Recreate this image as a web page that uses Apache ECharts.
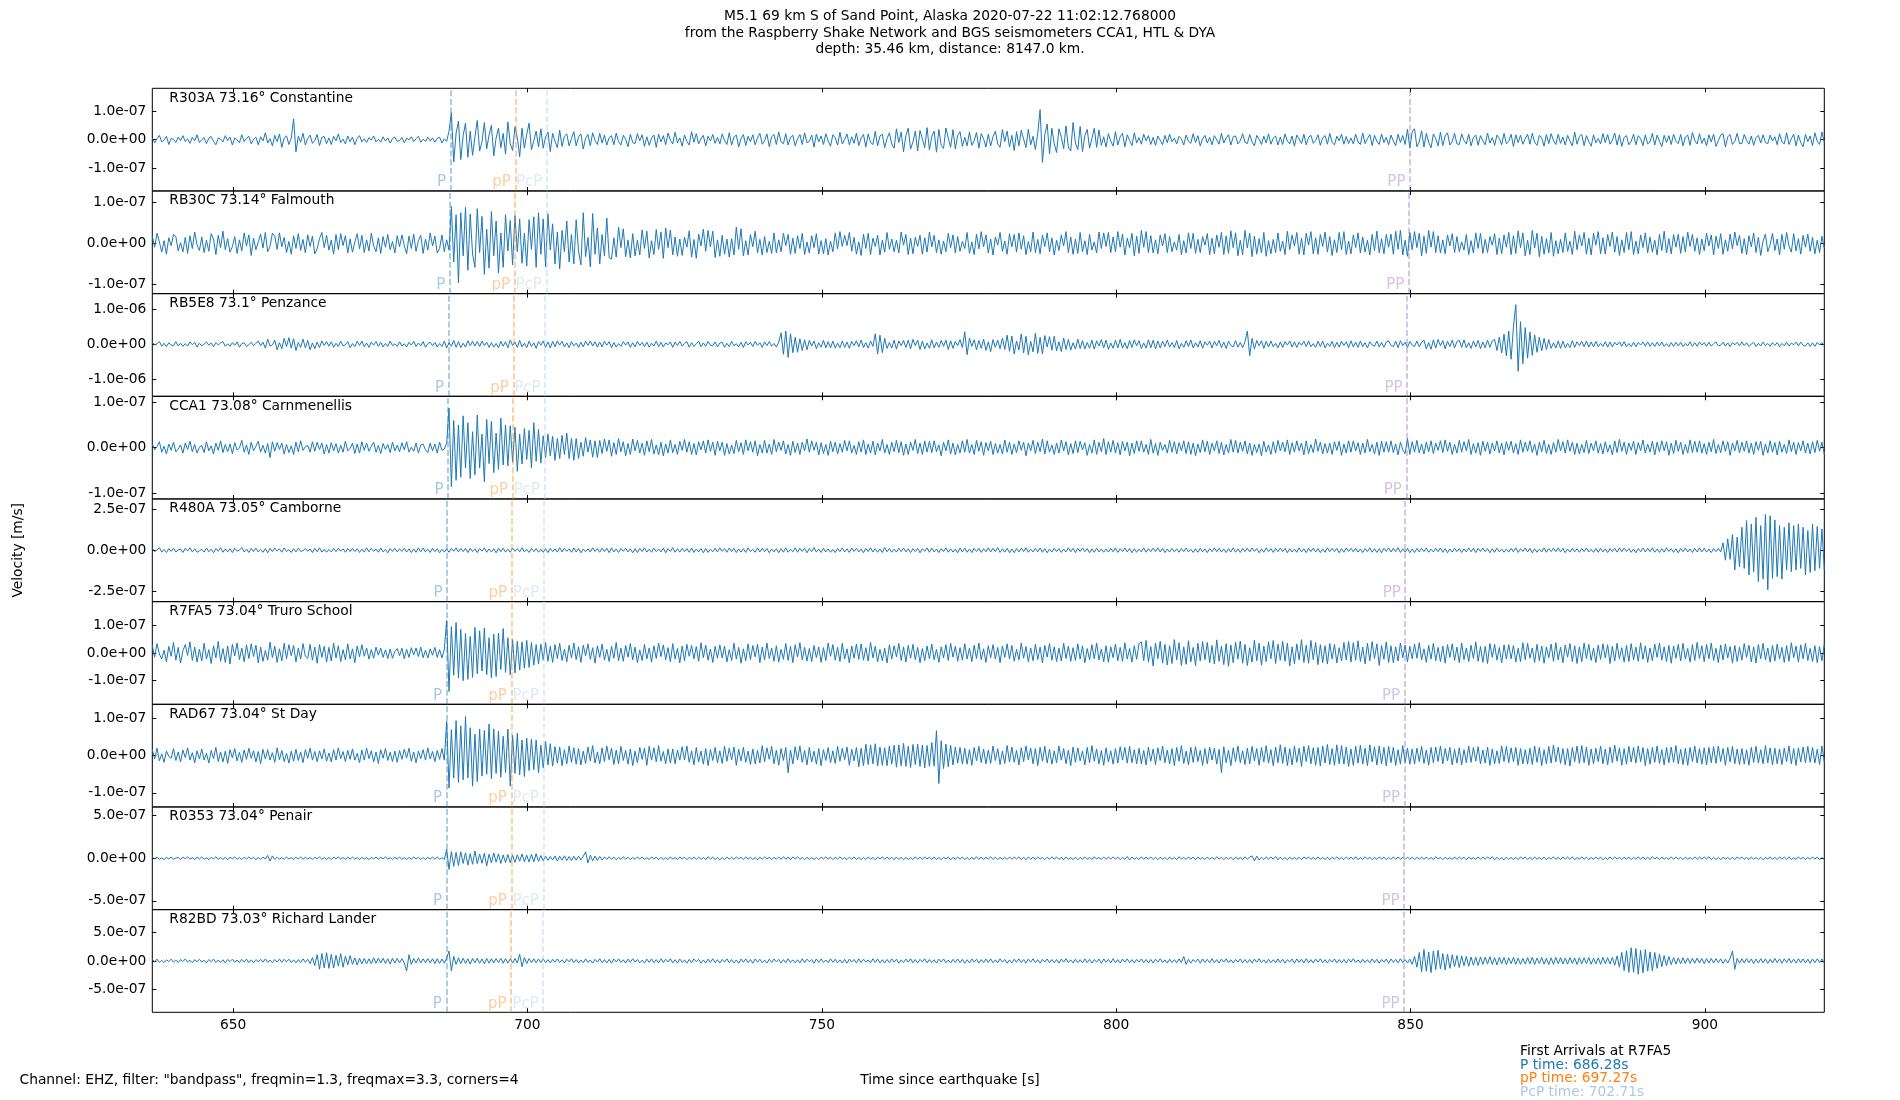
<!DOCTYPE html>
<html>
<head>
<meta charset="utf-8">
<script src="https://cdn.jsdelivr.net/npm/echarts@6/dist/echarts.min.js"></script>
<style>html,body{margin:0;padding:0;background:#fff}#c{width:1900px;height:1100px}</style>
</head>
<body>
<div id="c"></div>
<script>
// ---------- DATA ----------
const stationLabels = ["R303A 73.16° Constantine","RB30C 73.14° Falmouth","RB5E8 73.1° Penzance","CCA1 73.08° Carnmenellis","R480A 73.05° Camborne","R7FA5 73.04° Truro School","RAD67 73.04° St Day","R0353 73.04° Penair","R82BD 73.03° Richard Lander"];
const timeStart = 636.28, timeStep = 0.4, timeEnd = 920.28;
const xTicks = [650,700,750,800,850,900];
const yLimMin = [-1.80e-7,-1.22e-7,-1.497e-6,-1.13e-7,-3.12e-7,-1.85e-7,-1.38e-7,-6.03e-7,-9.05e-7];
const yLimMax = [1.80e-7,1.28e-7,1.457e-6,1.13e-7,3.12e-7,1.85e-7,1.38e-7,6.03e-7,9.05e-7];
const yTickStep = [1e-7,1e-7,1e-6,1e-7,2.5e-7,1e-7,1e-7,5e-7,5e-7];
const pTimes   = [686.94,686.83,686.61,686.50,686.33,686.28,686.28,686.28,686.22];
const pPTimes  = [697.93,697.82,697.60,697.49,697.32,697.27,697.27,697.27,697.21];
const pcpTimes = [703.30,703.20,703.00,702.90,702.76,702.71,702.71,702.71,702.66];
const ppTimes  = [849.9,849.7,849.4,849.3,849.1,849.0,849.0,848.9,848.9];
const arrivalNote = ["First Arrivals at R7FA5","P time: 686.28s","pP time: 697.27s","PcP time: 702.71s"];

// velocity samples in nm/s, one every 0.4 s from 636.28 s (15 samples = 6 s per line)
const r303a = [
6,-11,3,15,-8,-2,12,-17,5,1,-10,9,-4,14,-7,
3,-13,8,-4,17,-10,0,7,-14,5,11,-6,-18,6,2,
-8,14,-3,9,-19,6,-1,-11,17,-7,4,12,-15,1,9,
-18,10,-5,24,-12,3,-22,15,-7,20,-27,6,13,-17,5,
73,-43,12,-9,22,-19,4,16,-13,-3,18,-21,8,11,-14,
6,-17,12,-4,20,-10,2,-15,13,-7,9,-18,5,14,-8,
3,-10,7,-2,13,-8,1,-9,10,-5,6,-12,4,9,-6,
-3,8,-11,5,-1,10,-7,3,12,-9,2,-6,8,-4,6,
-9,5,8,-12,3,-6,30,94,-78,22,65,-70,14,58,-62,
30,-55,10,67,-40,-8,60,-32,16,50,-57,6,40,-28,22,
-50,62,-14,-38,45,7,-60,40,-30,18,58,-35,-4,30,-25,
38,-30,9,27,-42,22,-6,-28,33,-24,12,20,-22,4,28,
-22,10,20,-33,5,18,-21,24,-3,-17,22,-12,16,-19,7,
14,-18,23,-7,-19,15,2,-25,19,-10,-14,21,-4,17,-24,
10,-20,5,16,-27,19,-8,14,-18,23,-2,-15,26,-11,6,
-23,16,-6,-19,28,-9,21,-15,4,15,-22,12,-5,18,-13,
8,-15,20,-3,-17,24,-19,9,16,-26,4,18,-21,12,-7,
17,-18,6,22,-16,-4,20,-25,10,18,-17,27,-8,-14,21,
-19,8,15,-22,3,18,-17,24,-11,-6,16,-26,19,-8,13,
-17,21,-5,-23,17,7,-19,26,-15,1,20,-18,10,-13,23,
-21,6,18,-26,20,-10,-17,29,-22,13,19,-28,4,24,-15,
-30,38,-10,27,-42,14,40,-33,-8,30,-40,32,3,-28,42,
-36,11,30,-44,36,-20,-31,41,6,-27,35,-33,15,28,-24,
8,-22,27,-20,-4,25,-30,21,3,-26,19,-22,10,30,-15,
-27,35,-7,30,-25,15,-38,28,-22,33,2,-28,36,-18,12,
-35,22,105,-80,18,55,-50,40,-14,-45,38,9,-32,48,-26,
-40,60,-12,-35,46,-42,14,36,-30,4,40,-27,34,-20,10,
-26,21,-5,-23,28,-19,10,22,-25,17,-3,-21,24,-12,7,
-16,19,-4,14,-17,8,-20,13,-2,-18,15,-11,19,-7,5,
-15,12,3,-19,16,-6,-13,21,-10,14,-22,3,15,-12,8,
-18,14,-1,-16,22,-12,6,17,-19,10,13,-15,-4,21,-9,
-14,18,-8,-22,15,2,-17,12,-11,20,-16,5,13,-19,9,
-17,20,-5,-15,13,-23,16,3,-14,19,-18,8,15,-13,-3,
17,-20,7,14,-16,22,-10,-18,12,-4,19,-16,11,-14,6,
-15,19,-8,-17,23,-14,3,18,-21,15,-6,-17,20,-10,8,
-18,16,-5,-21,19,-10,14,-17,36,-30,27,38,-25,-8,31,
-26,22,-9,-29,20,4,-22,26,-21,13,24,-19,-6,22,-15,
-17,20,-3,-15,19,-22,8,16,-20,14,-4,-18,23,-12,7,
-20,16,4,-18,22,-15,-6,19,-24,17,-10,15,-16,3,19,
-16,22,-9,-20,15,6,-23,18,-14,21,-3,-17,19,-13,9,
-19,15,-5,-22,26,-16,10,18,-21,14,-7,-23,17,-11,4,
-15,21,-10,18,-16,-2,23,-19,17,-24,8,14,-18,-6,19,
-18,14,4,-21,17,-15,-8,22,-19,16,-5,-24,15,-10,14,
-17,19,-6,-14,18,-22,9,16,-20,25,-3,-15,21,-13,5,
-22,17,-8,19,-24,-4,16,21,-26,10,18,-17,-6,22,-14,
-14,18,-3,-16,13,-20,7,15,-12,17,-10,-14,16,-5,10,
-18,21,-8,-15,24,-17,3,19,-22,16,-11,-25,18,-7,13,
-21,24,-6,-17,27,-10];

const rb30c = [
18,-9,25,4,-21,7,-26,14,-5,22,17,-18,2,-20,15,
-24,19,-12,28,-3,-17,16,-22,8,-19,24,11,-27,20,-10,
30,-15,12,-21,-8,17,-24,9,-18,26,-6,21,-29,13,-15,
4,23,-11,27,-20,-7,25,18,-14,26,-8,15,-22,5,-26,
19,-12,24,-17,10,-23,21,-7,18,-25,-13,12,27,-10,20,
-16,8,-26,22,-15,24,-5,19,-23,11,-21,3,24,-13,20,
-22,9,-18,25,-6,-20,14,-24,17,-9,22,-15,5,-23,19,
-8,21,-5,-25,18,-12,23,-19,7,20,-24,11,-16,26,-6,
18,-23,-12,21,-20,9,-16,90,-45,70,-96,75,-30,88,-65,
72,-25,-58,85,-22,66,-75,35,-60,78,-30,55,-72,26,-58,
70,-18,56,-52,68,-20,60,-48,25,-55,58,-14,65,-58,75,
-26,60,-57,73,-16,48,-50,28,-62,32,-20,55,-45,22,-50,
58,-18,-52,75,-32,15,-57,73,-26,38,-50,22,-30,62,-34,
-38,14,-33,40,-10,36,-32,9,-35,24,-30,8,-28,33,-12,
30,-35,7,-27,34,-14,28,-36,38,-10,33,-28,16,-31,11,
-29,15,-9,31,-33,10,-36,23,-6,35,-19,32,-8,30,-34,
9,-31,20,-26,11,-33,12,-28,40,-14,36,-30,7,-28,22,
-8,30,-23,10,-28,17,-22,5,-24,26,-23,9,-20,25,-5,
22,-26,13,-24,19,-12,25,-27,4,-23,19,-10,24,-26,7,
-25,12,-28,6,-20,26,-13,29,-7,20,-5,27,-19,15,-26,
4,-29,23,-12,25,-27,13,-7,20,-28,8,-21,27,-14,11,
-20,8,-23,28,-4,22,-27,13,-25,15,-7,20,-26,14,-21,
28,-8,20,-22,9,-26,6,-20,25,-10,21,-23,17,-19,5,
-12,27,-24,4,-27,23,-13,29,-8,21,-23,11,-28,16,-4,
27,-19,6,-26,24,-8,22,-21,26,-14,19,-27,5,-20,28,
-22,10,-25,21,-7,26,-20,14,-28,8,-17,21,-6,29,-22,
16,-26,11,-24,27,-20,7,-27,22,-16,4,-23,28,-12,26,
-7,27,-22,16,-20,29,-9,23,-28,13,-10,25,-30,18,-24,
32,-9,29,-22,19,-23,9,-25,21,-6,24,-22,17,-20,4,
-16,22,-27,7,-23,26,-12,25,-24,10,-22,17,-4,24,-27,
13,-25,21,-9,27,-27,19,-24,31,-10,26,-30,8,-27,32,
-11,25,-32,18,-26,12,-23,27,-31,7,-25,10,-22,26,-19,
6,-27,30,-15,21,-6,27,-26,13,-28,25,-4,29,-25,14,
-26,22,-7,28,-21,17,-29,9,-22,27,-15,29,-27,6,-25,
21,-10,26,-23,16,-21,8,-28,22,-17,30,-23,12,-25,22,
-9,23,-26,30,-14,32,-28,8,-31,27,-15,29,-10,25,-30,
18,-24,32,-9,29,-22,19,-23,9,-25,21,-6,24,-22,17,
-20,4,-16,22,-27,7,-23,26,-12,25,-24,10,-22,17,-4,
24,-27,13,-25,21,-9,27,-27,19,-24,31,-10,26,-30,8,
-27,32,-11,25,-32,18,-26,12,-23,27,-31,7,-25,10,-22,
26,-19,6,-27,30,-15,21,-6,27,-26,13,-28,25,-4,29,
-25,14,-26,22,-7,28,-21,17,-29,9,-22,27,-15,29,-27,
6,-25,21,-10,26,-23,16,-21,8,-28,22,-17,30,-23,12,
-25,22,-9,23,-24,17,-21,28,-7,22,-19,14,-27,11,-18,
25,-6,21,-28,18,-12,24,-26,9,-19,23,-13,28,-5,20,
-24,12,-27,19,-8,26,-22,15,-29,6,23,-20,-3,25,-17,
11,-28,22,-14,27,-6,-21,24,-18,12,-26,20,-9,23,-19,
15,-25,8,-22,18,-12];

const rb5e8 = [
60,-25,12,80,-55,28,-70,45,-18,-40,75,-48,30,-62,20,
-52,68,-15,55,-80,30,-50,6,66,-28,35,-72,52,-22,40,
75,-60,14,-58,45,-32,70,-85,22,42,-65,-12,58,-40,26,
90,-42,60,-110,150,-50,-20,120,-160,45,-130,170,-65,190,-110,
160,-180,50,-90,150,-105,110,-160,40,-130,65,-95,100,-35,80,
-55,70,-85,28,-62,90,-50,-14,75,-95,20,-70,85,-34,95,
-75,36,-88,64,-26,82,-58,52,-78,24,-64,92,-40,8,-60,
68,-50,14,-75,58,-26,88,-64,36,-46,78,-88,16,60,-40,
52,-78,22,-64,92,-105,40,-60,110,-88,75,-95,30,-82,100,
-40,88,-50,78,-64,95,-40,60,-88,46,-85,26,-100,82,-54,
70,-102,125,-34,64,-92,110,-75,30,-95,88,-64,40,-115,78,
-26,95,-85,68,-105,82,-68,98,-24,88,-78,40,-92,75,-46,
34,-88,58,-75,85,-30,95,-50,72,-82,64,-78,88,-26,75,
-95,50,-82,20,-60,78,-24,68,-88,46,-75,85,-34,54,-72,
60,-82,30,-50,92,-68,58,-78,40,-14,68,-88,64,-37,82,
-54,24,75,-85,46,-64,14,88,-72,40,-58,78,-26,-46,68,
-78,36,60,-88,26,-68,82,-44,16,-75,58,-95,72,-20,54,
-64,82,-30,46,-88,68,-40,78,-58,26,-82,60,330,-290,380,
-380,300,-240,200,-230,160,-180,130,-160,110,-50,95,-130,42,-85,
115,-100,75,-105,92,-110,34,-100,95,-88,64,-115,82,-40,100,
-75,120,-95,48,-110,92,-60,300,-280,260,-240,170,-120,50,-110,
120,-140,95,-40,110,-90,115,-130,140,-42,120,-150,95,-135,38,
-115,130,-105,64,-90,110,-56,120,-150,100,-118,80,-42,135,-95,
360,-300,180,-60,130,-160,110,-120,150,-175,70,-210,135,-90,120,
-130,180,-150,260,-200,240,-280,95,-170,300,-250,230,-310,85,-220,
320,-260,200,-280,250,-80,220,-170,230,-190,70,-210,180,-150,140,
-165,45,-140,150,-125,105,-135,52,-115,115,-140,100,-52,135,-105,
120,-145,36,-115,120,-105,140,-112,44,-128,108,-92,128,-44,104,
-125,36,-112,128,-100,116,-135,96,-108,88,-66,120,-82,50,-96,
110,-128,28,-88,100,-66,124,-104,44,-82,104,-116,70,-28,92,
-108,82,-44,112,-96,62,-120,88,-32,-74,104,-85,52,-100,74,
380,-330,170,-140,110,-44,100,-118,88,-80,96,-74,28,-102,66,
-92,76,-24,96,-80,72,-92,62,-28,88,-66,96,-76,20,-88,
84,-66,92,-102,28,-62,80,-96,58,-84,88,-32,70,-96,100,
-80,62,-88,96,-70,44,-104,72,-20,-58,92,-76,50,-88,66,
96,-32,-70,88,-96,104,-44,62,-88,80,-25,-66,96,-72,54,
120,-135,50,-145,128,-110,140,-44,108,-132,88,-66,120,-104,80,
112,-88,128,-104,44,-120,96,-80,112,-128,66,-104,120,-88,96,
140,-180,210,-250,290,-330,380,-430,500,1140,-780,650,-560,480,-400,
350,-320,270,-230,210,-190,170,-150,135,-120,44,-110,96,-118,88,
-100,28,-92,104,-88,72,-36,84,-70,92,-80,66,-76,80,-70,
28,-62,74,-84,66,-76,58,-22,70,-58,74,-66,24,-70,62,
-70,50,-22,66,-54,70,-58,46,-66,62,-50,66,-58,18,-70,
50,-62,58,-46,54,-66,22,-50,70,-62,46,-58,66,-24,50,
-62,58,-54,14,66,-44,-28,62,-54,40,-66,50,-18,58,-46,
70,-36,44,-62,10,54,-66,28,-50,62,-40,22,-58,46,-32,
50,-66,24,-44,58,-54,36,-14,62,-46,66,-28,-54,44,-62,
40,-58,54,-22,50,-44];

const cca1 = [
9,-5,2,13,-10,3,-14,8,-6,12,-9,-3,6,-12,10,
-4,14,-9,7,-12,1,5,-11,13,-7,4,-14,10,-6,15,
-11,7,-9,8,-13,11,-5,-1,16,-10,6,-15,12,-7,3,
14,-10,5,-12,9,-22,13,-8,11,-4,10,-14,7,-11,4,
-15,12,-9,15,-6,2,5,-10,13,-8,12,-4,10,-14,7,
-12,11,-7,9,-12,5,-10,14,-7,-2,10,-13,8,-12,13,
-6,10,-8,3,12,-10,5,-13,9,-4,7,-11,12,-7,5,
-9,11,-5,13,-10,1,-8,10,-12,6,8,-5,-11,10,-7,
8,-12,12,-6,-3,10,87,-86,60,-72,50,-65,70,-45,55,
-68,35,-60,72,-45,30,-75,62,-35,58,-55,32,-48,65,-38,
50,-40,48,-32,45,-52,30,-36,42,-26,38,-45,55,-30,40,
-34,26,-22,30,-18,25,-28,20,-24,27,-15,32,-24,20,-28,
20,-24,12,-19,22,-10,17,-21,15,-22,16,-13,19,-8,17,
-19,11,-15,20,-9,13,-18,9,-15,19,-7,16,-12,10,-17,
15,-9,18,-14,6,-16,12,-18,8,-12,17,-11,7,-15,14,
-6,18,-10,13,-15,9,-16,13,-5,15,-12,17,-8,12,-17,
14,-7,12,-17,9,-14,6,-13,16,-9,11,-15,17,-7,13,
-10,15,-18,7,-12,16,-12,8,-15,18,-9,12,-6,15,-14,
7,-17,14,-11,10,-15,12,-7,19,-10,15,-6,12,-16,11,
-13,7,-17,14,-9,12,-14,9,-10,16,-7,15,-12,5,-15,
13,-10,17,-15,8,-12,14,-16,10,-7,18,-12,7,-15,12,
-9,16,-11,13,-17,8,-15,12,-6,18,-13,10,-15,15,-10,
14,-11,15,-9,6,-18,12,-7,17,-14,10,-16,7,-12,15,
-10,18,-12,7,-15,16,-8,13,-17,11,-7,14,-15,9,-12,
7,-14,17,-10,12,-15,8,-11,15,-6,12,-18,10,-7,16,
-13,12,-9,19,-14,15,-10,6,-15,10,-12,17,-7,13,-16,
9,-13,15,-11,14,-5,11,-17,7,-12,17,-15,12,-9,20,
-15,13,-10,16,-12,11,-16,14,-7,12,-18,10,-13,15,-8,
15,-10,7,-15,18,-12,9,-17,12,-6,7,-12,16,-10,13,
-14,11,-7,15,-13,13,-15,10,-18,8,-11,17,-9,14,-15,
10,-7,15,-13,12,-16,7,-12,18,-10,16,-12,12,-8,15,
-14,10,-17,7,-11,8,-18,14,-10,6,-15,13,-12,16,-7,
12,-9,17,-15,11,-10,15,-7,10,-16,15,-13,7,-11,19,
-8,12,-14,9,-12,10,-15,13,-6,14,-17,8,-12,15,-10,
15,-7,11,-15,10,-12,18,-9,7,-14,12,-17,14,-10,13,
-10,15,-11,8,-16,12,-5,-13,20,-15,13,-10,16,-12,8,
-14,12,-9,15,-13,10,-6,15,-11,17,-8,12,-15,7,-12,
16,-10,13,-7,18,-15,9,-12,11,-17,14,-8,12,-14,10,
-7,15,-12,10,-16,13,-6,14,-12,9,-15,17,-10,12,-8,
15,-11,8,-17,12,-9,16,-13,7,-15,11,-10,18,-7,13,
-12,17,-8,12,-15,10,-14,7,-11,16,-13,10,-7,15,-12,
9,-14,13,-10,6,-16,15,-11,18,-8,12,-15,10,-6,14,
-15,11,-7,17,-12,8,-10,14,-16,12,-9,15,-7,13,-17,
10,-13,16,-8,12,-15,7,-12,17,-11,14,-10,15,-12,9,
-15,12,-9,18,-13,7,-11,15,-8,13,-17,10,-7,16,-12,
12,-8,15,-12,10,-15,13,-6,14,-17,8,-12,15,-10,11,
-16,14,-10,7,-13,17,-9,12,-15,11,-7,15,-12,10,-14,
13,-11,16,-8,12,-15];

const r480a = [
13,-8,3,16,-11,5,-14,10,-7,13,-10,2,8,-13,12,
-5,15,-10,9,-12,-3,6,-11,14,-9,7,-15,11,-6,16,
-12,8,-10,10,-14,12,-5,1,17,-10,8,-13,11,-8,13,
-10,6,-12,10,-15,12,-8,14,-5,9,-12,15,-8,5,-13,
10,-10,12,-7,-2,11,-6,8,-14,12,-9,15,-11,7,-12,
6,-10,12,-8,13,-5,9,-12,10,-8,12,-8,10,-13,7,
-11,15,-9,12,-6,8,-12,14,-10,5,-15,11,-7,13,-10,
10,-7,12,-11,9,-14,8,-12,15,-9,14,-10,7,-13,12,
-8,10,-15,6,-11,8,-12,13,-6,15,-10,11,-8,12,-14,
12,-8,9,-14,10,-5,15,-12,8,-10,10,-15,12,-8,13,
-11,7,-12,14,-6,11,-9,15,-10,5,-13,12,-8,10,-12,
7,-12,10,-14,12,-8,9,-11,16,-10,13,-6,8,-12,14,
-10,11,-15,8,-9,9,-11,15,-7,10,-12,13,-8,12,-14,
15,-10,8,-13,11,-6,12,-10,9,-15,10,-14,12,-8,15,
-11,7,-12,13,-8,8,-10,13,-15,9,-7,16,-12,10,-11,
12,-8,10,-12,14,-13,8,-10,11,-15,11,-13,7,-9,12,
-10,15,-6,10,-12,14,-8,12,-14,8,-11,10,-13,15,-7,
6,-12,15,-10,13,-8,11,-15,8,-10,10,-15,9,-11,15,
-12,7,-9,14,-12,13,-7,12,-15,10,-8,16,-11,8,-13,
12,-10,8,-12,6,-14,11,-8,15,-10,9,-13,14,-7,12,
-10,8,-15,12,-8,15,-10,10,-12,8,-13,17,-9,11,-12,
7,-11,13,-8,14,-10,9,-14,10,-8,12,-15,10,-6,15,
-12,13,-10,8,-14,10,-8,15,-12,9,-11,7,-15,14,-10,
13,-12,8,-14,12,-7,11,-13,10,-9,15,-10,12,-8,16,
-13,9,-11,12,-15,8,-14,11,-10,13,-8,15,-12,7,-10,
12,-9,14,-12,10,-15,8,-11,13,-8,10,-13,8,-10,15,
-9,12,-14,11,-7,14,-8,10,-15,9,-12,13,-10,8,-12,
8,-11,12,-9,15,-13,10,-7,14,-10,11,-15,9,-12,7,
-10,15,-12,10,-8,13,-8,15,-10,12,-14,8,-11,12,-9,
9,-12,11,-8,14,-10,6,-13,10,-12,12,-10,8,-14,10,
-8,15,-9,12,-11,8,-14,10,-10,15,-12,8,-13,11,-8,
13,-10,14,-7,11,-15,9,-12,15,-8,10,-13,12,-9,14,
-8,12,-15,10,-11,7,-12,15,-10,9,-14,12,-8,13,-10,
10,-14,8,-12,15,-9,12,-8,11,-15,10,-12,14,-7,12,
-9,13,-11,8,-14,10,-8,15,-12,10,-13,9,-15,12,-7,
15,-10,12,-8,16,-13,9,-11,12,-15,8,-14,11,-10,13,
-8,15,-12,7,-10,12,-9,14,-12,10,-15,8,-11,13,-8,
10,-13,8,-10,15,-9,12,-14,11,-7,14,-8,10,-15,9,
-12,13,-10,8,-12,8,-11,12,-9,15,-13,10,-7,14,-10,
11,-15,9,-12,7,-10,15,-12,10,-8,13,-8,15,-10,12,
-14,8,-11,12,-9,9,-12,11,-8,14,-10,6,-13,10,-12,
12,-10,8,-14,10,-8,12,-11,15,-9,13,-7,10,-12,8,
-15,11,-9,14,-10,12,-8,15,-12,8,-13,10,-11,15,-7,
10,-12,9,-15,11,-8,14,-10,8,-13,12,-10,15,-9,12,
-11,8,-14,10,-8,12,-10,45,-60,70,-55,95,-120,80,-100,
140,-110,180,-150,160,-130,200,-190,150,-175,218,-240,210,-170,185,
-160,150,-175,140,-118,167,-130,150,-120,160,-110,140,-150,120,-135,
160,-125,145,-110,130,-120];

const r7fa5 = [
28,-15,34,-4,-22,10,-32,24,-12,38,-26,20,-36,8,30,
-9,40,-27,21,-33,14,-29,35,-22,12,-38,26,-18,42,-30,
16,-34,25,-40,31,-11,36,-24,18,-32,29,-20,33,-13,28,
-36,21,-30,9,-26,39,-17,24,-34,15,-28,35,-21,30,-10,
27,-32,17,-22,34,-12,-19,31,-26,21,-37,30,-16,24,-33,
20,-29,36,-18,26,-31,12,-24,33,-22,15,-35,25,-14,30,
-12,18,-22,12,-19,21,-8,18,-16,11,-20,14,-19,5,16,
-10,17,-21,13,-16,19,-7,18,-13,21,-17,10,-18,15,-8,
20,-16,12,-18,14,117,-139,95,-80,110,-90,85,-100,70,-95,
60,-88,92,-75,80,-65,90,-78,55,-90,68,-85,72,-60,88,
-70,55,-78,48,-72,42,-62,40,-55,45,-52,38,-44,30,-40,
32,-26,38,-30,24,-34,30,-20,35,-27,14,-32,28,-18,36,
-24,22,-34,28,-10,33,-23,19,-37,26,-16,32,-26,13,-31,
24,-19,38,-28,17,-30,27,-15,34,-25,21,-35,11,-27,31,
-22,18,-33,26,-20,36,-13,29,-24,19,-32,34,-22,16,-36,
25,-28,31,-12,27,-21,23,-30,37,-17,28,-26,14,-34,24,
-19,29,-18,25,-32,12,-27,35,-22,20,-37,15,-28,33,-24,
27,-14,31,-35,21,-25,36,-20,18,-30,26,-33,13,-23,34,
-27,24,-35,30,-15,37,-25,20,-29,16,-31,27,-17,22,-34,
19,-27,36,-12,30,-26,20,-31,35,-22,15,-36,25,-19,32,
-23,33,-26,19,-29,38,-18,24,-32,13,-28,17,-36,29,-22,
26,-14,34,-27,22,-33,27,-19,31,-24,20,-35,16,-28,25,
-21,32,-25,13,-34,22,-18,30,-27,35,-15,24,-30,19,-26,
33,-22,17,-31,28,-20,36,-24,15,-34,26,-17,30,-22,20,
-35,25,-16,33,-22,27,-30,13,-25,36,-19,23,-32,18,-28,
31,-24,21,-36,27,-15,34,-26,22,-31,17,-29,35,-20,25,
-30,19,-27,33,-22,26,-35,16,-24,30,-21,36,-25,14,-32,
26,-34,22,-17,32,-28,20,-30,37,-22,16,-33,26,-23,34,
40,-28,45,-33,23,-47,36,-21,42,-37,31,-43,26,-38,48,
-25,37,-45,22,-41,44,-32,20,-46,35,-29,41,-24,38,-36,
27,-40,47,-30,24,-42,34,-48,29,-35,39,-22,43,-37,31,
-45,19,-33,46,-28,35,-44,25,-31,40,-21,45,-38,32,-26,
42,-30,36,-47,22,-39,33,-25,48,-34,28,-37,45,-24,38,
-42,30,-35,26,-40,34,-22,31,-36,19,-29,38,-25,42,-33,
37,-26,44,-31,21,-39,35,-28,41,-20,33,-45,27,-23,40,
-34,26,-35,22,-29,36,-17,28,-32,24,-21,32,-19,37,-25,
15,-34,27,-22,35,-28,20,-31,25,-37,30,-16,33,-27,21,
-35,36,-24,18,-31,28,-20,40,-30,23,-34,24,-38,34,-16,
31,-26,20,-36,29,-22,30,-21,27,-33,17,-31,37,-24,35,
-19,18,-34,31,-28,25,-37,22,-17,32,-30,37,-25,21,-35,
29,-15,34,-31,26,-38,22,-32,36,-20,31,-27,17,-35,28,
-23,33,-18,30,-38,24,-29,35,-21,19,-33,27,-31,34,-25,
21,-30,37,-23,26,-34,18,-28,32,-16,36,-26,22,-31,27,
-37,25,-19,31,-29,35,-22,16,-33,30,-27,38,-20,26,-32,
31,-21,36,-27,17,-35,29,-25,33,-18,23,-37,27,-31,21,
-26,34,-16,28,-32,22,-36,30,-21,35,-25,18,-33,27,-29,
32,-22,20,-34,27,-30,37,-17,25,-33,29,-21,35,-27,16,
-31,26,-35,23,-28,33];

const rad67 = [
16,-9,20,-14,5,-18,12,-2,-7,19,-13,10,-17,15,-5,
21,-12,8,-19,13,-9,18,-12,6,-20,14,-8,22,-16,10,
-17,12,-21,16,-6,19,-14,9,-18,15,-10,20,-7,13,-17,
11,-22,17,-9,16,-12,8,-18,21,-11,14,-16,6,-20,12,
-15,17,-13,10,-19,16,-7,20,-12,11,-16,13,-9,18,-15,
7,-17,16,-12,21,-8,11,-16,14,-10,18,-12,6,-19,15,
-12,20,-8,13,-17,10,-21,16,-7,19,-13,9,-16,12,-18,
14,-10,17,-6,20,-15,10,-19,12,-8,16,-12,21,-9,11,
-16,14,-10,19,-12,92,-87,70,-60,94,-72,80,-65,105,-60,
75,-82,58,-70,71,-55,68,-50,85,-62,72,-48,66,-58,52,
-45,71,-82,55,-48,60,-52,42,-56,47,-40,45,-38,42,-46,
28,-33,38,-25,32,-28,24,-20,23,-27,16,-22,26,-18,21,
-23,19,-25,12,-21,23,-14,27,-20,10,-22,21,-16,26,-11,
20,-24,15,-22,25,-13,14,-23,18,-27,12,-19,22,-10,20,
-26,25,-12,21,-17,27,-15,11,-22,18,-20,18,-22,15,-12,
24,-12,26,-18,13,-25,22,-17,12,-23,19,-27,16,-13,22,
-19,13,-21,25,-15,20,-11,23,-26,17,-14,22,-18,12,-24,
18,-22,14,-20,27,-16,21,-10,25,-22,15,-26,19,-13,22,
-46,15,-22,24,-12,26,-18,14,-25,22,-17,12,-23,19,-27,
16,-13,22,-19,13,-21,25,-15,20,-11,23,-26,17,-14,22,
-30,20,-27,31,-24,29,-22,32,-28,23,-26,21,-27,26,-23,
28,-31,29,-27,33,-29,25,-32,30,-24,31,-29,28,-33,27,
-29,35,-28,67,-75,40,-35,31,-30,28,-25,23,-20,22,-23,
20,-23,16,-26,22,-14,25,-19,18,-22,15,-21,26,-13,19,
-24,12,-21,27,-17,23,-18,14,-25,21,-16,26,-11,20,-22,
19,-27,22,-15,25,-20,17,-23,13,-19,26,-12,19,-22,15,
-27,23,-18,21,-14,12,-25,22,-19,27,-15,18,-22,14,-26,
21,-17,13,-23,19,-20,24,-12,22,-20,25,-19,16,-22,20,
-22,14,-25,23,-15,18,-24,21,-13,26,-19,15,-22,19,-27,
22,-15,27,-21,12,-25,22,-18,24,-16,14,-26,19,-22,23,
-12,20,-23,17,-46,24,-19,15,-27,21,-16,26,-19,13,-24,
20,-22,25,-14,19,-26,22,-17,27,-20,16,-27,23,-19,29,
-21,23,-27,19,-25,26,-18,20,-29,25,-16,27,-22,21,-26,
22,-28,26,-20,30,-24,19,-26,29,-22,27,-23,23,-29,18,
-26,25,-20,28,-23,20,-27,29,-17,24,-25,26,-22,22,-28,
25,-19,22,-26,16,-23,27,-18,20,-23,18,-23,20,-16,25,
-21,15,-26,22,-19,23,-16,26,-22,19,-14,22,-25,17,-20,
21,-25,16,-19,26,-18,22,-15,24,-22,15,-20,23,-26,18,
-22,13,-21,26,-16,25,-19,21,-16,22,-26,19,-22,16,-23,
20,-24,26,-18,22,-27,16,-22,25,-20,29,-17,23,-21,19,
-25,19,-28,22,-16,26,-21,27,-19,23,-26,18,-22,20,-16,
26,-22,18,-25,23,-19,28,-15,21,-26,19,-23,25,-17,22,
-20,26,-16,22,-27,19,-23,22,-18,26,-21,16,-25,22,-19,
23,-18,27,-22,17,-24,20,-26,22,-16,26,-20,19,-23,21,
-25,22,-19,24,-21,26,-16,19,-26,22,-17,25,-22,18,-24,
19,-23,16,-26,22,-18,25,-20,16,-22,27,-19,21,-25,20,
-22,18,-24,20,-16,26,-22,19,-26,21,-17,23,-19,25,-18,
22,-20,17,-24,26,-18];

const r0353 = [
13,-7,16,-12,5,-15,10,-7,15,-11,3,9,-14,12,-4,
17,-10,7,-15,12,-8,15,-10,6,-16,12,-7,18,-13,9,
-14,11,-17,14,-6,15,-12,8,-15,13,-9,16,-7,12,-15,
10,-13,14,-8,35,-33,28,-15,12,-10,7,-12,15,-9,6,
-14,12,-9,15,-11,13,-9,10,-15,12,-6,16,-11,8,-14,
10,-15,14,-7,18,-12,9,-13,15,-10,15,-11,8,-14,11,
-12,9,-15,12,-7,14,-10,12,-6,16,-10,7,-15,11,-9,
14,-12,8,-16,12,-10,15,-7,11,-13,9,-15,12,-8,13,
-10,15,-11,8,-14,106,-130,80,-95,70,-85,75,-60,65,-80,
55,-70,87,-62,50,-58,60,-90,48,-55,62,-45,52,-60,40,
-50,45,-52,38,-48,42,-35,50,-40,36,-44,48,-42,55,-38,
32,-28,25,-24,22,-20,28,-32,24,-22,30,-25,21,-28,24,
-22,25,-20,24,75,-55,35,-30,26,-24,22,-20,17,-14,19,
-11,15,-17,10,-14,18,-9,13,-16,10,-13,16,-7,14,-12,
8,-15,16,-8,13,-17,11,-13,9,-15,18,-10,10,-14,17,
-7,13,-16,12,-10,15,-13,14,-12,9,-16,19,-8,13,-14,
10,-18,8,-16,15,-10,12,-13,16,-7,11,-15,17,-10,13,
-14,7,-18,13,-11,16,-8,12,-15,10,-9,16,-13,19,-10,
14,-16,15,-8,17,-13,10,-16,11,-12,8,-14,10,-17,13,
-7,16,-10,14,-15,12,-9,18,-12,8,-15,13,-10,16,-13,
10,-16,11,-14,16,-10,9,-16,13,-7,17,-11,14,-9,12,
-17,15,-13,10,-16,7,-13,9,-16,18,-10,13,-14,16,-8,
13,-15,16,-13,10,-16,11,-7,14,-18,12,-10,13,-10,15,
-14,8,-17,10,-12,19,-13,16,-15,11,-8,18,-13,13,-16,
9,-11,10,-13,16,-12,14,-9,17,-15,13,-18,15,-10,12,
-14,16,-10,10,-16,13,-11,17,-8,15,-13,10,-16,14,-12,
9,-15,13,-18,11,-10,16,-13,12,-16,19,-9,10,-14,16,
-12,13,-8,17,-10,14,-16,10,-13,21,-19,15,-12,8,-15,
18,-11,13,-10,16,-14,12,-16,13,-9,11,-17,15,-12,10,
-15,18,-7,10,-14,16,-8,13,-16,14,-11,9,-13,16,-12,
10,-15,19,-9,12,-16,13,-10,13,-17,14,-10,8,-13,17,
-12,15,28,-30,26,-20,12,-14,16,-10,15,-10,20,-16,11,
-14,9,-18,13,-11,10,-13,12,-16,16,-7,15,-13,10,-15,
16,-11,9,-14,13,-17,11,-9,17,-12,11,-15,16,-10,14,
-13,18,-16,8,-13,18,-10,13,-16,10,-12,16,-8,14,-17,
9,-14,17,-12,15,-9,10,-15,13,-11,14,-16,11,-10,16,
-13,16,-12,10,-15,19,-9,12,-16,13,-10,8,-13,17,-12,
15,-10,13,-17,14,-10,8,-13,17,-12,15,-10,15,-8,19,
-16,11,-14,9,-18,13,-11,10,-13,12,-16,16,-7,15,-13,
10,-15,16,-11,9,-14,13,-17,11,-9,17,-12,11,-15,16,
-10,14,-13,18,-16,8,-13,18,-10,13,-16,10,-12,16,-8,
14,-17,9,-14,17,-12,15,-9,10,-15,13,-11,14,-16,11,
-10,16,-13,16,-12,10,-15,19,-9,12,-16,13,-10,8,-13,
17,-12,15,-10,13,-17,14,-10,8,-13,17,-12,15,-10,15,
-8,19,-16,11,-14,9,-18,13,-11,10,-13,12,-16,16,-7,
15,-13,10,-15,16,-11,9,-14,13,-17,11,-9,17,-12,11,
-15,16,-10,14,-13,18,-16,8,-13,18,-10,13,-16,10,-12,
16,-8,14,-17,9,-14];

const r82bd = [
28,-15,33,-24,10,-30,21,-13,32,-22,17,-29,25,-11,34,
-20,14,-31,23,-16,30,-19,12,-33,26,-14,35,-27,18,-28,
22,-34,27,-12,31,-24,16,-30,29,-18,33,-26,19,-32,24,
-17,28,-21,35,-25,14,-30,26,-19,33,-24,29,-15,31,-27,
20,-33,25,-29,36,-22,31,-45,60,-80,110,-146,130,-120,146,
-130,115,-125,100,-90,130,-110,85,-70,95,-60,55,-72,48,-50,
45,-52,38,-48,55,-40,50,-35,46,-42,40,-55,48,-38,44,
-33,40,-36,-175,110,-60,45,-38,52,-33,37,-29,42,-35,40,
-45,38,-42,35,-40,50,175,-175,80,-60,55,-48,50,-42,38,
-55,45,-33,48,-40,36,-50,44,-38,40,-36,42,-30,46,-39,
44,-38,40,-36,42,-35,117,-100,60,-45,42,-30,38,-33,35,
-28,40,-33,24,-37,30,-20,38,-26,22,-36,31,-15,39,-29,
26,-34,18,-32,37,-24,16,-38,29,-21,40,-31,25,-35,28,
-39,34,-18,36,-27,21,-37,33,-23,39,-20,27,-33,15,-38,
32,-25,36,-29,24,-35,38,-28,31,-17,40,-34,22,-36,34,
-26,19,-39,27,-31,36,-14,29,-38,17,-37,32,-24,39,-30,
23,-36,28,-19,38,-29,25,-35,18,-40,33,-22,37,-31,26,
-40,36,-21,30,-34,15,-38,31,-27,35,-18,28,-37,24,-29,
39,-26,20,-33,21,-34,40,-30,33,-16,27,-39,35,-24,36,
-27,17,-32,38,-23,30,-35,19,-37,29,-38,34,-20,26,-36,
37,-28,32,-17,18,-31,39,-25,35,-33,22,-37,27,-30,37,
-22,30,-39,20,-27,34,-19,40,-32,25,-36,28,-17,38,-34,
26,-30,21,-38,33,-20,37,-31,16,-36,29,-25,35,-28,28,
-40,22,-34,36,-19,31,-37,24,-26,34,-27,38,-31,20,-33,
38,-21,27,-39,19,-35,31,-24,37,-29,25,-38,33,-22,38,
-30,23,-36,28,-18,35,-32,26,-34,27,-37,33,-21,39,-26,
19,-35,31,-29,22,-33,36,-27,30,-38,25,-20,34,-40,36,
-25,29,-34,40,-31,24,-36,33,-21,37,-30,23,-36,28,-18,
35,-32,26,-34,27,-37,33,-21,39,-26,19,-35,31,-29,22,
-33,36,-27,80,-60,30,-38,25,-20,34,-40,36,-25,29,-34,
40,-31,24,-36,33,-21,37,-30,23,-36,28,-18,35,-32,26,
-34,27,-37,33,-21,39,-26,19,-35,31,-29,22,-33,36,-27,
30,-38,25,-20,34,-40,36,-25,29,-34,40,-31,24,-36,33,
-21,37,-30,23,-36,28,-18,35,-32,26,-34,27,-37,33,-21,
39,-26,19,-35,31,-29,22,-33,36,-27,30,-38,25,-20,34,
-40,36,-25,29,-34,40,-31,24,-36,33,-60,80,-110,150,-190,
205,-180,160,-205,175,-150,190,-140,130,-160,120,-130,110,-100,95,
-115,90,-85,80,-95,70,-75,65,-80,72,-60,68,-55,75,-62,
58,-70,66,-52,60,-65,55,-48,62,-58,50,-60,45,-55,58,
-50,65,-62,52,-45,60,-57,48,-64,55,-60,62,-48,58,-52,
48,-55,60,-45,52,-62,58,-50,55,-48,60,-57,46,-52,55,
-60,62,-48,58,-55,62,-75,90,-110,150,-170,180,-200,234,-200,
220,-234,190,-210,200,-180,160,-175,150,-130,120,-100,95,-85,80,
-65,60,-55,52,-48,58,-45,50,-42,46,-40,52,-38,44,-48,
42,-38,45,-36,40,-32,37,-42,30,-36,44,175,-146,45,-40,
38,-35,42,-30,36,-44,33,-38,40,-32,37,-42,30,-36,44,
-28,35,-40,38,-30,42,-35,33,-37,41,-29,36,-38,32,-40,
35,-31,38,-27,34,-36];

const traces = [r303a, rb30c, rb5e8, cca1, r480a, r7fa5, rad67, r0353, r82bd];

// ---------- LAYOUT ----------
const FONT = 'DejaVu Sans';
const FS = 13.8;
const plotLeft = 152.3, plotRight = 1824.3, plotTop = 88.3, plotBottom = 1012.3;
const nP = traces.length;
const panelH = (plotBottom - plotTop) / nP;
const lineColors = {P:'rgba(31,119,180,0.5)', pP:'rgba(255,127,14,0.5)', PcP:'rgba(174,199,232,0.5)', PP:'rgba(148,103,189,0.5)'};

function fmtExp(v){
  if (Math.abs(v) < 1e-20) return '0.0e+00';
  const e = Math.floor(Math.log10(Math.abs(v)) + 1e-9);
  const m = v / Math.pow(10, e);
  return m.toFixed(1) + 'e' + (e < 0 ? '-' : '+') + String(Math.abs(e)).padStart(2, '0');
}

const grids = [], xAxes = [], yAxes = [], series = [], graphics = [];
for (let k = 0; k < nP; k++) {
  const top = plotTop + k * panelH;
  grids.push({left: plotLeft, top: top, width: plotRight - plotLeft, height: panelH, show: true, borderColor: '#000', borderWidth: 1, backgroundColor: 'transparent'});
  const yT = [-yTickStep[k], 0, yTickStep[k]];
  const xCommon = {type: 'value', gridIndex: k, min: timeStart, max: timeEnd, splitLine: {show: false}, axisLine: {show: false, onZero: false}};
  xAxes.push(Object.assign({}, xCommon, {position: 'bottom',
    axisTick: {show: true, inside: true, length: 4, customValues: xTicks, lineStyle: {color: '#000', width: 1}},
    axisLabel: {show: k === nP - 1, customValues: xTicks, color: '#000', fontFamily: FONT, fontSize: FS, margin: 6}}));
  xAxes.push(Object.assign({}, xCommon, {position: 'top',
    axisTick: {show: true, inside: true, length: 4, customValues: xTicks, lineStyle: {color: '#000', width: 1}},
    axisLabel: {show: false}}));
  const yCommon = {type: 'value', gridIndex: k, min: yLimMin[k], max: yLimMax[k], splitLine: {show: false}, axisLine: {show: false, onZero: false}};
  yAxes.push(Object.assign({}, yCommon, {position: 'left',
    axisTick: {show: true, inside: true, length: 4, customValues: yT, lineStyle: {color: '#000', width: 1}},
    axisLabel: {show: true, customValues: yT, formatter: fmtExp, color: '#000', fontFamily: FONT, fontSize: FS, margin: 6}}));
  yAxes.push(Object.assign({}, yCommon, {position: 'right',
    axisTick: {show: true, inside: true, length: 4, customValues: yT, lineStyle: {color: '#000', width: 1}},
    axisLabel: {show: false}}));

  const vals = traces[k];
  series.push({
    type: 'line', xAxisIndex: 2 * k, yAxisIndex: 2 * k, showSymbol: false, symbol: 'none', silent: true,
    lineStyle: {color: '#1f77b4', width: 1}, itemStyle: {color: '#1f77b4'}, z: 2,
    data: vals.map((v, i) => [timeStart + i * timeStep, v * 1e-9]),
    markLine: {silent: true, symbol: ['none', 'none'], label: {show: false}, animation: false,
      lineStyle: {type: [6, 2.6], width: 1.5},
      data: [
        {xAxis: pTimes[k], lineStyle: {color: lineColors.P}},
        {xAxis: pPTimes[k], lineStyle: {color: lineColors.pP}},
        {xAxis: pcpTimes[k], lineStyle: {color: lineColors.PcP}},
        {xAxis: ppTimes[k], lineStyle: {color: lineColors.PP}}
      ]}
  });
  const phaseItems = [['P', pTimes[k]], ['pP', pPTimes[k]], ['PcP', pcpTimes[k]], ['PP', ppTimes[k]]];
  series.push({
    type: 'scatter', xAxisIndex: 2 * k, yAxisIndex: 2 * k, symbolSize: 1, silent: true, z: 3,
    itemStyle: {color: 'rgba(0,0,0,0)'},
    data: phaseItems.map(p => ({value: [p[1], yLimMin[k]], name: p[0],
      label: {show: true, formatter: p[0], position: [-4, -8], align: 'right', verticalAlign: 'middle',
        color: lineColors[p[0]], fontFamily: FONT, fontSize: 15}}))
  });
  graphics.push({type: 'text', x: 169.3, y: top + 9.9, style: {text: stationLabels[k], fill: '#000', font: FS + 'px "DejaVu Sans"', align: 'left', verticalAlign: 'middle'}});
}

const titleLines = ['M5.1 69 km S of Sand Point, Alaska 2020-07-22 11:02:12.768000', 'from the Raspberry Shake Network and BGS seismometers CCA1, HTL & DYA', 'depth: 35.46 km, distance: 8147.0 km.'];
const titleY = [16.7, 33, 49.3];
const F = FS + 'px "DejaVu Sans"';
titleLines.forEach((t, i) => graphics.push({type: 'text', x: 950, y: titleY[i], style: {text: t, fill: '#000', font: F, align: 'center', verticalAlign: 'middle'}}));
graphics.push({type: 'text', x: 18, y: (plotTop + plotBottom) / 2, rotation: Math.PI / 2, style: {text: 'Velocity [m/s]', fill: '#000', font: F, align: 'center', verticalAlign: 'middle'}});
graphics.push({type: 'text', x: 19.5, y: 1080, style: {text: 'Channel: EHZ, filter: "bandpass", freqmin=1.3, freqmax=3.3, corners=4', fill: '#000', font: F, align: 'left', verticalAlign: 'middle'}});
graphics.push({type: 'text', x: 950, y: 1080, style: {text: 'Time since earthquake [s]', fill: '#000', font: F, align: 'center', verticalAlign: 'middle'}});
const noteColors = ['#000', '#1f77b4', '#ff7f0e', '#aec7e8'];
const noteY = [1051, 1065, 1078.5, 1092];
arrivalNote.forEach((t, i) => graphics.push({type: 'text', x: 1520, y: noteY[i], style: {text: t, fill: noteColors[i], font: F, align: 'left', verticalAlign: 'middle'}}));

// sanity check of sample counts
const expectN = Math.round((timeEnd - timeStart) / timeStep) + 1;
const bad = traces.map((t, i) => t.length !== expectN ? stationLabels[i].split(' ')[0] + ':' + t.length : null).filter(Boolean);
if (bad.length) graphics.push({type: 'text', x: 600, y: 1060, style: {text: 'LEN ' + bad.join(' '), fill: 'red', font: '14px sans-serif'}});

const chart = echarts.init(document.getElementById('c'), null, {renderer: 'canvas'});
chart.setOption({
  animation: false,
  backgroundColor: '#fff',
  grid: grids, xAxis: xAxes, yAxis: yAxes, series: series, graphic: graphics
});
</script>
</body>
</html>
